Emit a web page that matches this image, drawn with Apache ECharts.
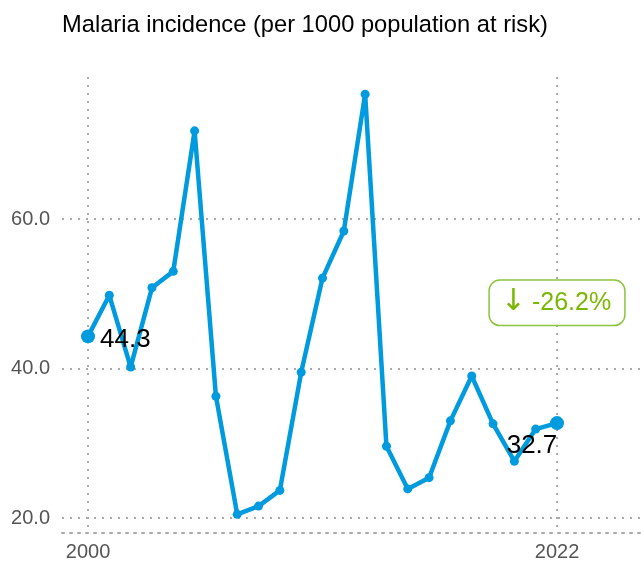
<!DOCTYPE html>
<html>
<head>
<meta charset="utf-8">
<script src="https://cdn.jsdelivr.net/npm/echarts@6/dist/echarts.min.js"></script>
<style>
    html, body { margin: 0; padding: 0; background: #fff; }
    #chart { width: 641px; height: 565px; }
</style>
</head>
<body>
<div id="chart"></div>
<script>
// data
const years = [2000, 2001, 2002, 2003, 2004, 2005, 2006, 2007, 2008, 2009, 2010, 2011,
    2012, 2013, 2014, 2015, 2016, 2017, 2018, 2019, 2020, 2021, 2022];
const incidence = [44.3, 49.8, 40.2, 50.8, 53.0, 71.8, 36.3, 20.5, 21.6, 23.7, 39.5, 52.1,
    58.4, 76.7, 29.6, 23.9, 25.4, 33.0, 39.0, 32.6, 27.6, 31.9, 32.7];
const xTicks = [2000, 2022];
const yTicks = [20, 40, 60];
const changeText = '-26.2%';

const blue = '#009ADE';
const green = '#7AB800';
const dotted = { color: '#aaa', type: [2, 6], width: 2 };

let last = years.length - 1;
let points = years.map((y, i) => {
    let pt = [y, incidence[i]];
    if (i === 0) return { value: pt, label: { position: 'right', offset: [0, 3] } };
    if (i === last) return { value: pt, label: { position: 'bottom', offset: [-25, -2] } };
    return pt;
});

let myChart = echarts.init(document.getElementById('chart'));
let option = {
    animation: false,
    title: {
        text: 'Malaria incidence (per 1000 population at risk)',
        left: 57,
        top: 8,
        textStyle: { fontFamily: 'Liberation Sans', fontSize: 23.7, fontWeight: 'normal', color: '#000' }
    },
    grid: { left: 62, right: 0, top: 77, bottom: 32, containLabel: false },
    xAxis: {
        type: 'value',
        min: 1998.78,
        max: 2025.94,
        axisLine: { show: true, lineStyle: dotted },
        axisTick: { show: false, customValues: xTicks },
        axisLabel: {
            customValues: xTicks,
            formatter: v => String(v),
            fontFamily: 'Liberation Sans', fontSize: 20, color: '#555', margin: 9
        },
        splitLine: { show: true, lineStyle: dotted }
    },
    yAxis: {
        type: 'value',
        min: 18,
        max: 79,
        axisLine: { show: false },
        axisTick: { show: false, customValues: yTicks },
        axisLabel: {
            customValues: yTicks,
            formatter: v => v.toFixed(1),
            fontFamily: 'Liberation Sans', fontSize: 20, color: '#555', margin: 12
        },
        splitLine: { show: true, lineStyle: dotted }
    },
    series: [{
        type: 'line',
        data: points,
        symbol: 'circle',
        symbolSize: (v, p) => (p.dataIndex === 0 || p.dataIndex === last) ? 14 : 9,
        itemStyle: { color: blue },
        lineStyle: { color: blue, width: 4.5 },
        label: {
            show: true,
            formatter: p => (p.dataIndex === 0 || p.dataIndex === last) ? p.value[1].toFixed(1) : '',
            fontFamily: 'Liberation Sans', fontSize: 26, color: '#000'
        },
        markPoint: {
            symbol: 'circle',
            symbolSize: 1,
            itemStyle: { color: 'rgba(0,0,0,0)' },
            data: [{
                coord: [2022, 48.8],
                label: {
                    show: true,
                    position: 'inside',
                    formatter: '{a|↓}{b|' + changeText + '}',
                    rich: {
                        a: { fontFamily: 'DejaVu Sans', fontSize: 30, color: green, padding: [0, 0, 2, 0] },
                        b: { fontFamily: 'Liberation Sans', fontSize: 25, color: green, padding: [0, 0, 0, 6] }
                    },
                    backgroundColor: '#fff',
                    borderColor: '#8cc43c', borderWidth: 1.5, borderRadius: 10,
                    padding: [6, 13, 6, 11]
                }
            }]
        }
    }]
};
if (option && typeof option === "object") {
    myChart.setOption(option, true);
}
</script>
</body>
</html>
